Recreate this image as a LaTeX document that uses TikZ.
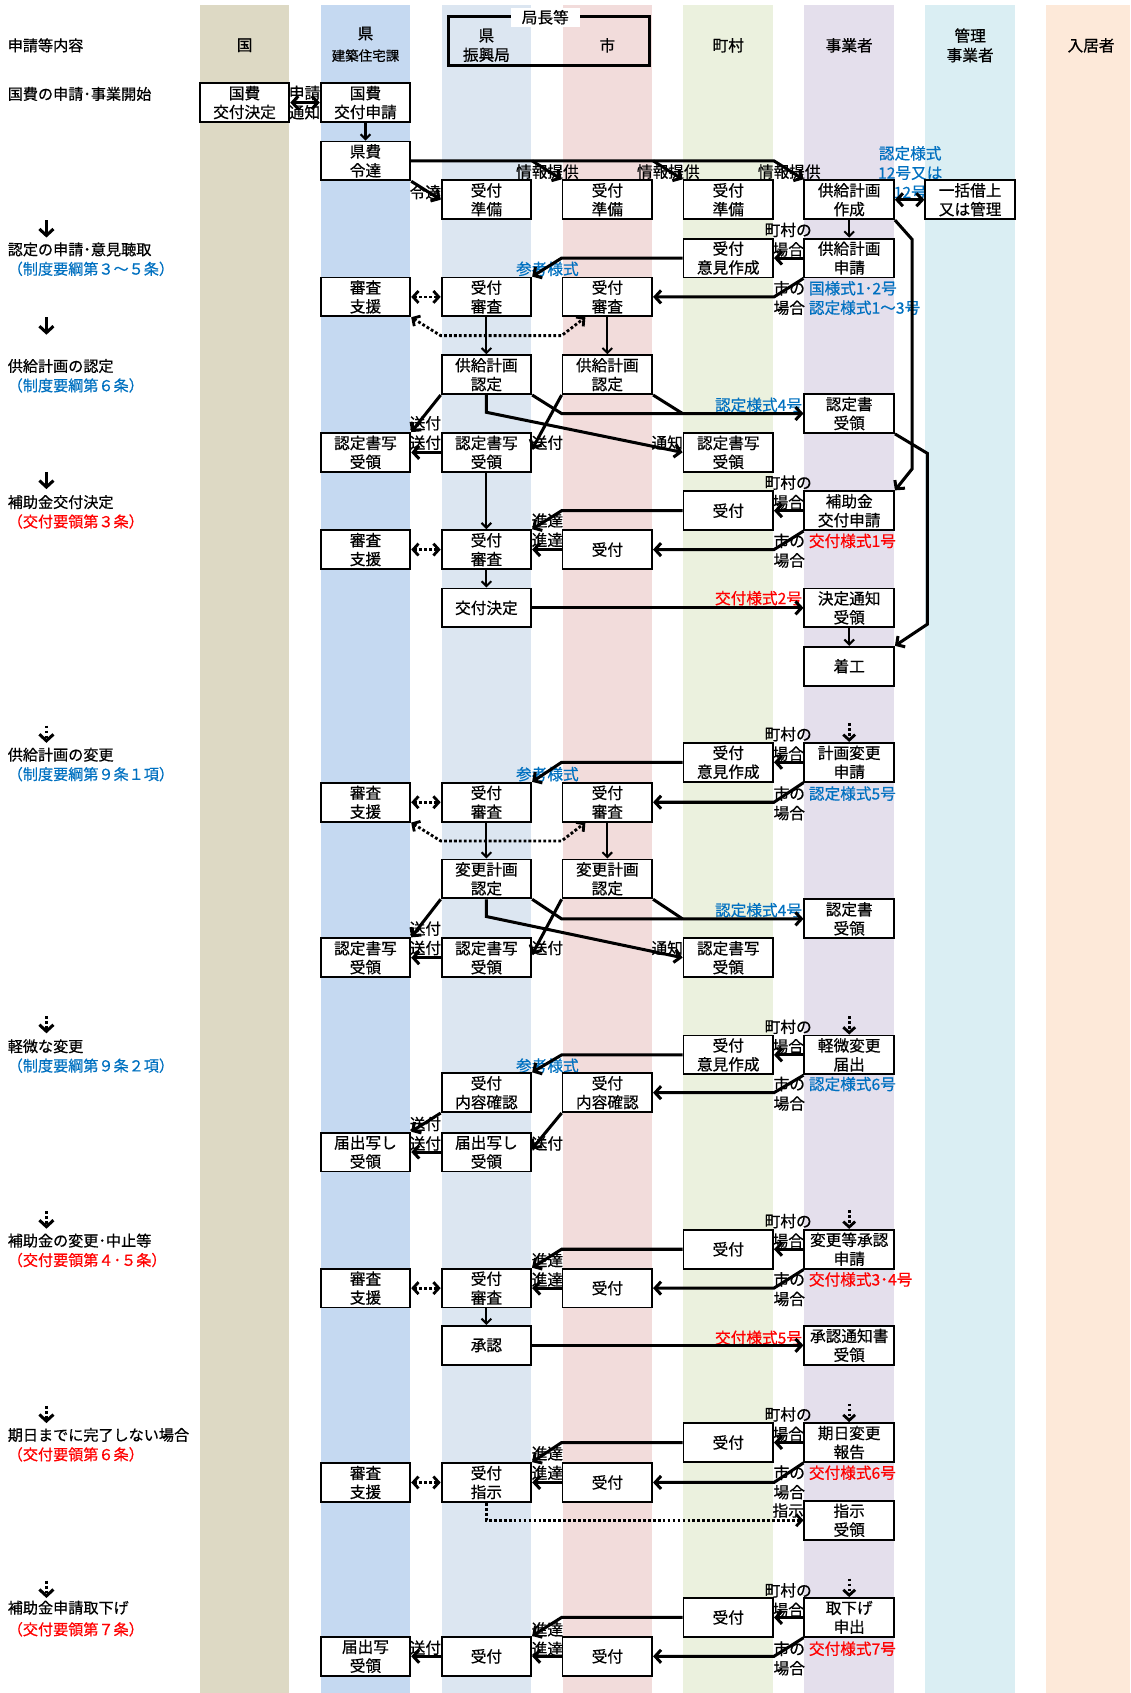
\documentclass[tikz,border=0pt]{standalone}
\usepackage{fontspec}
\newfontfamily\jpfont[FakeBold=0.6]{Noto Sans CJK JP}
\usetikzlibrary{arrows.meta,calc}
\definecolor{LaneNation}{HTML}{DDD9C4}
\definecolor{LanePref}{HTML}{C5D9F1}
\definecolor{LaneBureau}{HTML}{DCE6F1}
\definecolor{LaneCity}{HTML}{F2DCDB}
\definecolor{LaneTown}{HTML}{EBF1DE}
\definecolor{LaneBiz}{HTML}{E4DFEC}
\definecolor{LaneMgr}{HTML}{DAEEF3}
\definecolor{LaneResident}{HTML}{FDE9D9}
\definecolor{FormBlue}{HTML}{0070C0}
\definecolor{FormRed}{HTML}{FF0000}
\tikzset{
  box/.style={draw=black,fill=white,line width=1.7pt,minimum width=83pt,minimum height=36pt,inner sep=0pt,align=center,font={\jpfont\fontsize{14.5}{17.5}\selectfont}},
  lbl/.style={inner sep=0pt,align=center,font={\jpfont\fontsize{14.5}{18}\selectfont}},
  bluelbl/.style={lbl,text=FormBlue},
  redlbl/.style={lbl,text=FormRed},
  sidelbl/.style={inner sep=0pt,anchor=west,font={\jpfont\fontsize{14}{17}\selectfont}},
  lanehead/.style={lbl},
  flow/.style={-{Straight Barb[length=5.5pt,width=12pt]},line width=2.8pt},
  drop/.style={-{Straight Barb[length=4.5pt,width=9pt]},line width=1.9pt},
  joinline/.style={line width=2.8pt},
  twoway/.style={{Straight Barb[length=5.5pt,width=12pt]}-{Straight Barb[length=5.5pt,width=12pt]},line width=2.8pt},
  dotflow/.style={-{Straight Barb[length=5pt,width=11pt]},line width=2.6pt,dash pattern=on 2.6pt off 2pt},
  dottwo/.style={{Straight Barb[length=5pt,width=11pt]}-{Straight Barb[length=5pt,width=11pt]},line width=2.6pt,dash pattern=on 2.6pt off 2pt},
  stepdown/.style={-{Straight Barb[length=6pt,width=13pt]},line width=2.8pt},
  stepdots/.style={stepdown,dash pattern=on 2.6pt off 2pt}
}
\begin{document}
\begin{tikzpicture}[x=1pt,y=-1pt]
\useasboundingbox (0,0) rectangle (1047,1568);
% lanes
\fill[LaneNation] (185,5) rectangle (268,1568);
\fill[LanePref] (297,5) rectangle (380,1568);
\fill[LaneBureau] (409,5) rectangle (492,1568);
\fill[LaneCity] (521,5) rectangle (604,1568);
\fill[LaneTown] (633,5) rectangle (716,1568);
\fill[LaneBiz] (745,5) rectangle (828,1568);
\fill[LaneMgr] (857,5) rectangle (940,1568);
\fill[LaneResident] (969,5) rectangle (1047,1568);

% headings
\node[sidelbl] (hdrItem) at (7,42) {申請等内容};
\node[lanehead] (hdrNation) at (226.5,42) {国};
\node[lanehead] (hdrPref) at (338.5,41) {県\\[2pt]{\fontsize{12.5}{15}\selectfont 建築住宅課}};
\node[draw,line width=2.6pt,minimum width=186pt,minimum height=45pt,inner sep=0pt] (chiefBox) at (508.5,37.8) {};
\node[lbl,fill=white,inner xsep=10pt,inner ysep=2pt] (chiefTag) at (505,16) {局長等};
\node[lanehead] (hdrBureau) at (450.5,42) {県\\振興局};
\node[lanehead] (hdrCity) at (562.5,42) {市};
\node[lanehead] (hdrTown) at (674.5,42) {町村};
\node[lanehead] (hdrBiz) at (786.5,42) {事業者};
\node[lanehead] (hdrMgr) at (898.5,42) {管理\\事業者};
\node[lanehead] (hdrResident) at (1010.5,42) {入居者};

% left column
\node[sidelbl] (secKokuhi) at (7,87) {国費の申請･事業開始};
\node[sidelbl] (secNintei) at (7,231) {認定の申請･意見聴取};
\node[sidelbl,text=FormBlue] (secNinteiRef) at (7,249) {（制度要綱第３～５条）};
\node[sidelbl] (secKeikaku) at (7,339) {供給計画の認定};
\node[sidelbl,text=FormBlue] (secKeikakuRef) at (7,357) {（制度要綱第６条）};
\node[sidelbl] (secHojo) at (7,465) {補助金交付決定};
\node[sidelbl,text=FormRed] (secHojoRef) at (7,483) {（交付要領第３条）};
\node[sidelbl] (secHenko) at (7,699) {供給計画の変更};
\node[sidelbl,text=FormBlue] (secHenkoRef) at (7,717) {（制度要綱第９条１項）};
\node[sidelbl] (secKeibi) at (7,969) {軽微な変更};
\node[sidelbl,text=FormBlue] (secKeibiRef) at (7,987) {（制度要綱第９条２項）};
\node[sidelbl] (secHojoHen) at (7,1149) {補助金の変更･中止等};
\node[sidelbl,text=FormRed] (secHojoHenRef) at (7,1167) {（交付要領第４･５条）};
\node[sidelbl] (secKijitsu) at (7,1329) {期日までに完了しない場合};
\node[sidelbl,text=FormRed] (secKijitsuRef) at (7,1347) {（交付要領第６条）};
\node[sidelbl] (secTorisage) at (7,1489) {補助金申請取下げ};
\node[sidelbl,text=FormRed] (secTorisageRef) at (7,1509) {（交付要領第７条）};
\coordinate (stepA) at (43,204);
\coordinate (stepB) at (43,294);
\coordinate (stepC) at (43,437);
\coordinate (stepD) at (43,672);
\coordinate (stepE) at (43,941);
\coordinate (stepF) at (43,1122);
\coordinate (stepG) at (43,1302);
\coordinate (stepH) at (43,1464);
\draw[stepdown] (stepA) -- ++(0,16);
\draw[stepdown] (stepB) -- ++(0,16);
\draw[stepdown] (stepC) -- ++(0,16);
\draw[stepdots] (stepD) -- ++(0,16);
\draw[stepdots] (stepE) -- ++(0,16);
\draw[stepdots] (stepF) -- ++(0,16);
\draw[stepdots] (stepG) -- ++(0,16);
\draw[stepdots] (stepH) -- ++(0,16);

% arrow labels
\node[lbl] (lblShinsei) at (282,86) {申請};
\node[lbl] (lblTsuchi) at (282,104) {通知};
\node[lbl] (lblReitatsu) at (394,178) {令達};
\node[lbl] (lblJohoA) at (507,159) {情報提供};
\node[lbl] (lblJohoB) at (619,159) {情報提供};
\node[lbl] (lblJohoC) at (731,159) {情報提供};
\node[bluelbl] (lblTwelve) at (843,160) {認定様式\\12号又は\\12号};
\node[lbl] (lblTownA) at (730,222) {町村の\\場合};
\node[bluelbl] (lblSankoA) at (507,249) {参考様式};
\node[lbl] (lblCityA) at (731,276) {市の\\場合};
\node[bluelbl,anchor=west] (lblFormA) at (749,267) {国様式1･2号};
\node[bluelbl,anchor=west] (lblFormB) at (749,285) {認定様式1～3号};
\node[bluelbl,anchor=east] (lblFormC) at (743,375) {認定様式4号};
\node[lbl] (lblSofuA) at (394,392) {送付};
\node[lbl] (lblSofuB) at (394,410) {送付};
\node[lbl] (lblSofuC) at (507,410) {送付};
\node[lbl] (lblNotifyA) at (618,410) {通知};
\node[lbl] (lblTownB) at (730,456) {町村の\\場合};
\node[lbl] (lblShintatsuA) at (507,482) {進達};
\node[lbl] (lblShintatsuB) at (507,500) {進達};
\node[lbl] (lblCityB) at (731,510) {市の\\場合};
\node[redlbl,anchor=west] (lblGrantA) at (749,501) {交付様式1号};
\node[redlbl,anchor=east] (lblGrantB) at (743,554) {交付様式2号};
\node[lbl] (lblTownC) at (730,689) {町村の\\場合};
\node[bluelbl] (lblSankoB) at (507,717) {参考様式};
\node[lbl] (lblCityC) at (731,744) {市の\\場合};
\node[bluelbl,anchor=west] (lblFormD) at (749,735) {認定様式5号};
\node[bluelbl,anchor=east] (lblFormE) at (743,843) {認定様式4号};
\node[lbl] (lblSofuD) at (394,860) {送付};
\node[lbl] (lblSofuE) at (394,878) {送付};
\node[lbl] (lblSofuF) at (507,878) {送付};
\node[lbl] (lblNotifyB) at (618,878) {通知};
\node[lbl] (lblTownD) at (730,960) {町村の\\場合};
\node[bluelbl] (lblSankoC) at (507,987) {参考様式};
\node[lbl] (lblCityD) at (731,1013) {市の\\場合};
\node[bluelbl,anchor=west] (lblFormF) at (749,1004) {認定様式6号};
\node[lbl] (lblSofuG) at (394,1041) {送付};
\node[lbl] (lblSofuH) at (394,1059) {送付};
\node[lbl] (lblSofuI) at (507,1059) {送付};
\node[lbl] (lblTownE) at (730,1140) {町村の\\場合};
\node[lbl] (lblShintatsuC) at (507,1167) {進達};
\node[lbl] (lblShintatsuD) at (507,1185) {進達};
\node[lbl] (lblCityE) at (731,1194) {市の\\場合};
\node[redlbl,anchor=west] (lblGrantC) at (749,1185) {交付様式3･4号};
\node[redlbl,anchor=east] (lblGrantD) at (743,1239) {交付様式5号};
\node[lbl] (lblTownF) at (730,1319) {町村の\\場合};
\node[lbl] (lblShintatsuE) at (507,1346) {進達};
\node[lbl] (lblShintatsuF) at (507,1364) {進達};
\node[lbl] (lblCityF) at (731,1373) {市の\\場合};
\node[redlbl,anchor=west] (lblGrantE) at (749,1364) {交付様式6号};
\node[lbl] (lblShiji) at (730,1399) {指示};
\node[lbl] (lblTownG) at (730,1482) {町村の\\場合};
\node[lbl] (lblShintatsuG) at (507,1509) {進達};
\node[lbl] (lblShintatsuH) at (507,1527) {進達};
\node[lbl] (lblSofuJ) at (394,1526) {送付};
\node[lbl] (lblCityG) at (731,1536) {市の\\場合};
\node[redlbl,anchor=west] (lblGrantF) at (749,1527) {交付様式7号};

% boxes: start
\node[box] (kokuKettei) at (226.5,95) {国費\\交付決定};
\node[box] (kokuShinsei) at (338.5,95) {国費\\交付申請};
\node[box] (kenReitatsu) at (338.5,149) {県費\\令達};
\node[box] (junbiS) at (450.5,185) {受付\\準備};
\node[box] (junbiC) at (562.5,185) {受付\\準備};
\node[box] (junbiT) at (674.5,185) {受付\\準備};
\node[box] (sakuseiJ) at (786.5,185) {供給計画\\作成};
\node[box] (ikkatsuM) at (898.5,185) {一括借上\\又は管理};
% boxes: nintei
\node[box] (ikenT) at (674.5,239) {受付\\意見作成};
\node[box] (keikakuJ) at (786.5,239) {供給計画\\申請};
\node[box] (shienP) at (338.5,275) {審査\\支援};
\node[box] (shinsaS) at (450.5,275) {受付\\審査};
\node[box] (shinsaC) at (562.5,275) {受付\\審査};
\node[box] (ninteiS) at (450.5,347) {供給計画\\認定};
\node[box] (ninteiC) at (562.5,347) {供給計画\\認定};
\node[box] (ninteishoJ) at (786.5,383) {認定書\\受領};
\node[box] (utsushiP) at (338.5,419) {認定書写\\受領};
\node[box] (utsushiS) at (450.5,419) {認定書写\\受領};
\node[box] (utsushiT) at (674.5,419) {認定書写\\受領};
% boxes: hojo
\node[box] (hojoT) at (674.5,473) {受付};
\node[box] (hojoJ) at (786.5,473) {補助金\\交付申請};
\node[box] (hojoShienP) at (338.5,509) {審査\\支援};
\node[box] (hojoShinsaS) at (450.5,509) {受付\\審査};
\node[box] (hojoC) at (562.5,509) {受付};
\node[box] (ketteiS) at (450.5,563) {交付決定};
\node[box] (ketteiJ) at (786.5,563) {決定通知\\受領};
\node[box] (chakkoJ) at (786.5,617) {着工};
% boxes: henko
\node[box] (henIkenT) at (674.5,706) {受付\\意見作成};
\node[box] (henJ) at (786.5,706) {計画変更\\申請};
\node[box] (henShienP) at (338.5,743) {審査\\支援};
\node[box] (henShinsaS) at (450.5,743) {受付\\審査};
\node[box] (henShinsaC) at (562.5,743) {受付\\審査};
\node[box] (henNinteiS) at (450.5,814) {変更計画\\認定};
\node[box] (henNinteiC) at (562.5,814) {変更計画\\認定};
\node[box] (henNinteishoJ) at (786.5,851) {認定書\\受領};
\node[box] (henUtsushiP) at (338.5,887) {認定書写\\受領};
\node[box] (henUtsushiS) at (450.5,887) {認定書写\\受領};
\node[box] (henUtsushiT) at (674.5,887) {認定書写\\受領};
% boxes: keibi
\node[box] (keiIkenT) at (674.5,977) {受付\\意見作成};
\node[box] (keiJ) at (786.5,977) {軽微変更\\届出};
\node[box] (keiKakuninS) at (450.5,1012) {受付\\内容確認};
\node[box] (keiKakuninC) at (562.5,1012) {受付\\内容確認};
\node[box] (keiUtsushiP) at (338.5,1067) {届出写し\\受領};
\node[box] (keiUtsushiS) at (450.5,1067) {届出写し\\受領};
% boxes: hojo henko
\node[box] (hcT) at (674.5,1157) {受付};
\node[box] (hcJ) at (786.5,1157) {変更等承認\\申請};
\node[box] (hcShienP) at (338.5,1193) {審査\\支援};
\node[box] (hcShinsaS) at (450.5,1193) {受付\\審査};
\node[box] (hcC) at (562.5,1193) {受付};
\node[box] (hcShoninS) at (450.5,1246) {承認};
\node[box] (hcShoninJ) at (786.5,1246) {承認通知書\\受領};
% boxes: kijitsu
\node[box] (kjT) at (674.5,1336) {受付};
\node[box] (kjJ) at (786.5,1336) {期日変更\\報告};
\node[box] (kjShienP) at (338.5,1373) {審査\\支援};
\node[box] (kjShijiS) at (450.5,1373) {受付\\指示};
\node[box] (kjC) at (562.5,1373) {受付};
\node[box] (kjShijiJ) at (786.5,1408) {指示\\受領};
% boxes: torisage
\node[box] (tsT) at (674.5,1498) {受付};
\node[box] (tsJ) at (786.5,1498) {取下げ\\申出};
\node[box] (tsUtsushiP) at (338.5,1534) {届出写\\受領};
\node[box] (tsS) at (450.5,1534) {受付};
\node[box] (tsC) at (562.5,1534) {受付};

% arrows: start
\draw[twoway] (kokuKettei.east) -- (kokuShinsei.west);
\draw[drop] (kokuShinsei.south) -- (kenReitatsu.north);
\draw[flow] (kenReitatsu.east) -- (kenReitatsu.east -| junbiT.east) -- (sakuseiJ.north west);
\draw[flow] (kenReitatsu.east -| junbiS.east) -- (junbiC.north west);
\draw[flow] (kenReitatsu.east -| junbiC.east) -- (junbiT.north west);
\draw[flow] (kenReitatsu.south east) -- (junbiS.west);
\draw[twoway] (sakuseiJ.east) -- (ikkatsuM.west);
\draw[drop] (sakuseiJ.south) -- (keikakuJ.north);
\draw[flow] (sakuseiJ.south east) -- ++(16,18) -- ($(hojoJ.north east)+(16,-20)$) -- (hojoJ.north east);

% arrows: nintei
\draw[flow] (keikakuJ.west) -- (ikenT.east);
\draw[flow] (ikenT.west) -- (ikenT.west -| shinsaC.west) -- (shinsaS.north east);
\draw[flow] (keikakuJ.south west) -- (shinsaC.east -| ikenT.east) -- (shinsaC.east);
\draw[dottwo] (shienP.east) -- (shinsaS.west);
\draw[dottwo] (shienP.south east) -- ($(shinsaS.south west)+(0,17)$) -- ($(shinsaC.south west)+(0,17)$) -- ($(shinsaC.south west)+(22,0)$);
\draw[drop] (shinsaS.south) -- (ninteiS.north);
\draw[drop] (shinsaC.south) -- (ninteiC.north);
\draw[flow] (ninteiS.south east) -- (ninteishoJ.west -| ninteiC.west) -- (ninteishoJ.west);
\draw[joinline] (ninteiC.south east) -- (ninteishoJ.west -| utsushiT.west);
\draw[flow] (ninteiS.south) -- ++(0,16) -- (utsushiT.west);
\draw[flow] (ninteiS.south west) -- (utsushiP.north east);
\draw[flow] (ninteiC.south west) -- ($(utsushiS.east)+(0,-3)$);
\draw[flow] (utsushiS.west) -- (utsushiP.east);
\draw[drop] (utsushiS.south) -- (hojoShinsaS.north);
\draw[flow] (ninteishoJ.south east) -- ++(30,18) -- ($(chakkoJ.north east)+(30,-20)$) -- (chakkoJ.north east);

% arrows: hojo
\draw[flow] (hojoJ.west) -- (hojoT.east);
\draw[flow] (hojoT.west) -- (hojoT.west -| hojoC.west) -- (hojoShinsaS.north east);
\draw[flow] (hojoJ.south west) -- (hojoC.east -| hojoT.east) -- (hojoC.east);
\draw[flow] (hojoC.west) -- (hojoShinsaS.east);
\draw[dottwo] (hojoShienP.east) -- (hojoShinsaS.west);
\draw[drop] (hojoShinsaS.south) -- (ketteiS.north);
\draw[flow] (ketteiS.east) -- (ketteiJ.west);
\draw[drop] (ketteiJ.south) -- (chakkoJ.north);

% arrows: henko
\coordinate (henStart) at (786.5,670);
\draw[dotflow] (henStart) -- (henJ.north);
\draw[flow] (henJ.west) -- (henIkenT.east);
\draw[flow] (henIkenT.west) -- (henIkenT.west -| henShinsaC.west) -- (henShinsaS.north east);
\draw[flow] (henJ.south west) -- (henShinsaC.east -| henIkenT.east) -- (henShinsaC.east);
\draw[dottwo] (henShienP.east) -- (henShinsaS.west);
\draw[dottwo] (henShienP.south east) -- ($(henShinsaS.south west)+(0,17)$) -- ($(henShinsaC.south west)+(0,17)$) -- ($(henShinsaC.south west)+(22,0)$);
\draw[drop] (henShinsaS.south) -- (henNinteiS.north);
\draw[drop] (henShinsaC.south) -- (henNinteiC.north);
\draw[flow] (henNinteiS.south east) -- (henNinteishoJ.west -| henNinteiC.west) -- (henNinteishoJ.west);
\draw[joinline] (henNinteiC.south east) -- (henNinteishoJ.west -| henUtsushiT.west);
\draw[flow] (henNinteiS.south) -- ++(0,16) -- (henUtsushiT.west);
\draw[flow] (henNinteiS.south west) -- (henUtsushiP.north east);
\draw[flow] (henNinteiC.south west) -- ($(henUtsushiS.east)+(0,-3)$);
\draw[flow] (henUtsushiS.west) -- (henUtsushiP.east);

% arrows: keibi
\coordinate (keiStart) at (786.5,941);
\draw[dotflow] (keiStart) -- (keiJ.north);
\draw[flow] (keiJ.west) -- (keiIkenT.east);
\draw[flow] (keiIkenT.west) -- (keiIkenT.west -| keiKakuninC.west) -- (keiKakuninS.north east);
\draw[flow] (keiJ.south west) -- (keiKakuninC.east -| keiIkenT.east) -- (keiKakuninC.east);
\draw[flow] (keiKakuninS.south west) -- (keiUtsushiP.north east);
\draw[flow] (keiKakuninC.south west) -- ($(keiUtsushiS.east)+(0,-3)$);
\draw[flow] (keiUtsushiS.west) -- (keiUtsushiP.east);

% arrows: hojo henko
\coordinate (hcStart) at (786.5,1121);
\draw[dotflow] (hcStart) -- (hcJ.north);
\draw[flow] (hcJ.west) -- (hcT.east);
\draw[flow] (hcT.west) -- (hcT.west -| hcC.west) -- (hcShinsaS.north east);
\draw[flow] (hcJ.south west) -- (hcC.east -| hcT.east) -- (hcC.east);
\draw[flow] (hcC.west) -- (hcShinsaS.east);
\draw[dottwo] (hcShienP.east) -- (hcShinsaS.west);
\draw[drop] (hcShinsaS.south) -- (hcShoninS.north);
\draw[flow] (hcShoninS.east) -- (hcShoninJ.west);

% arrows: kijitsu
\coordinate (kjStart) at (786.5,1300);
\draw[dotflow] (kjStart) -- (kjJ.north);
\draw[flow] (kjJ.west) -- (kjT.east);
\draw[flow] (kjT.west) -- (kjT.west -| kjC.west) -- (kjShijiS.north east);
\draw[flow] (kjJ.south west) -- (kjC.east -| kjT.east) -- (kjC.east);
\draw[flow] (kjC.west) -- (kjShijiS.east);
\draw[dottwo] (kjShienP.east) -- (kjShijiS.west);
\draw[dotflow] (kjShijiS.south) -- (kjShijiS.south |- kjShijiJ.west) -- (kjShijiJ.west);

% arrows: torisage
\coordinate (tsStart) at (786.5,1462);
\draw[dotflow] (tsStart) -- (tsJ.north);
\draw[flow] (tsJ.west) -- (tsT.east);
\draw[flow] (tsT.west) -- (tsT.west -| tsC.west) -- (tsS.north east);
\draw[flow] (tsJ.south west) -- (tsC.east -| tsT.east) -- (tsC.east);
\draw[flow] (tsC.west) -- (tsS.east);
\draw[flow] (tsS.west) -- (tsUtsushiP.east);
\end{tikzpicture}
\end{document}
